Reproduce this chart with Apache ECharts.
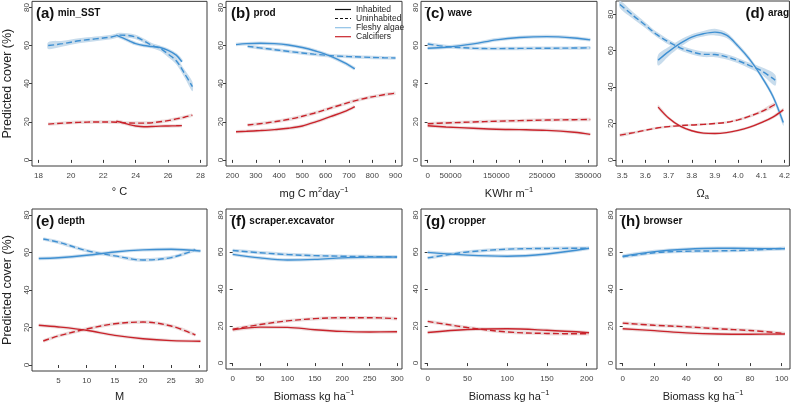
<!DOCTYPE html>
<html><head><meta charset="utf-8">
<script src="https://cdn.jsdelivr.net/npm/echarts@6/dist/echarts.min.js"></script>
<style>html,body{margin:0;padding:0;background:#fff}#c{width:793px;height:403px}</style>
</head><body><div id="c"></div><script>
// ---------------- DATA ----------------
const yTicks = [0, 20, 40, 60, 80];
const panelIds = ['(a)', '(b)', '(c)', '(d)', '(e)', '(f)', '(g)', '(h)'];
const panelNames = ['min_SST', 'prod', 'wave', 'arag', 'depth', 'scraper.excavator', 'cropper', 'browser'];
const legendLabels = ['Inhabited', 'Uninhabited', 'Fleshy algae', 'Calcifiers'];

// (a) min_SST
const a_ticks = [18, 20, 22, 24, 26, 28];
const a_xInh = [22.8, 23.2, 23.6, 24, 24.5, 25, 25.5, 26, 26.5, 26.85];
const a_fleshyInh = [65.5, 64, 62.5, 61, 60, 59.5, 59, 57.5, 55, 51.5];
const a_calcInh = [20.3, 19.5, 18.5, 17.8, 17.4, 17.5, 17.7, 17.8, 17.9, 18.0];
const a_xUn = [18.6, 19.5, 20.5, 21.5, 22.5, 23, 23.5, 24, 24.5, 25, 25.5, 26, 26.5, 27, 27.5];
const a_fleshyUn = [60, 61, 62.5, 63.5, 64.5, 65.5, 65.3, 64.5, 62.5, 60, 58.5, 55.5, 52, 45.5, 38.5];
const a_calcUn = [18.8, 19.3, 19.7, 19.9, 19.9, 19.7, 19.4, 19.3, 19.3, 19.5, 20, 20.6, 21.5, 22.4, 23.5];
const a_bandFleshyUn = [1.8, 1.5, 1.3, 1.2, 1.2, 1.2, 1.2, 1.2, 1.2, 1.3, 1.4, 1.6, 1.8, 2.1, 2.5];

// (b) prod
const b_ticks = [200, 300, 400, 500, 600, 700, 800, 900];
const b_xInh = [215, 260, 320, 380, 440, 500, 560, 620, 680, 725];
const b_fleshyInh = [60.5, 61, 61.2, 61, 60.3, 59, 57, 54.5, 51, 47.8];
const b_calcInh = [14.8, 15.0, 15.4, 15.9, 16.6, 17.8, 20.1, 22.7, 25.3, 28];
const b_xUn = [265, 350, 450, 550, 650, 750, 850, 900];
const b_fleshyUn = [59.6, 58.3, 56.8, 55.5, 54.5, 54, 53.6, 53.5];
const b_calcUn = [18.3, 19.5, 21.5, 24.5, 28.3, 31.8, 34.2, 35];

// (c) wave
const c_ticks = [0, 50000, 100000, 150000, 200000, 250000, 300000, 350000];
const c_tickLabels = [0, 50000, 150000, 250000, 350000];
const c_xInh = [0, 40000, 100000, 150000, 200000, 260000, 320000, 355000];
const c_fleshyInh = [58.6, 59.1, 60.9, 63, 64.2, 64.7, 64, 63];
const c_calcInh = [17.9, 17.3, 16.6, 16.1, 15.9, 15.5, 14.5, 13.4];
const c_xUn = [0, 40000, 100000, 150000, 200000, 260000, 320000, 355000];
const c_fleshyUn = [60.8, 59.5, 58.6, 58.4, 58.5, 58.6, 58.7, 58.8];
const c_calcUn = [19.0, 19.4, 19.9, 20.3, 20.6, 20.9, 21.1, 21.2];

// (d) arag
const d_ticks = [3.5, 3.6, 3.7, 3.8, 3.9, 4.0, 4.1, 4.2];
const d_xInh = [3.655, 3.7, 3.75, 3.8, 3.85, 3.9, 3.95, 4.0, 4.05, 4.1, 4.15, 4.195];
const d_fleshyInh = [54.8, 59.5, 64, 67.5, 69.3, 70.2, 68.5, 62.5, 55.2, 46, 35, 20.5];
const d_calcInh = [29, 23, 18.5, 16, 14.7, 14.5, 15, 16.2, 18, 20.5, 23.5, 27.5];
const d_xUn = [3.49, 3.55, 3.6, 3.65, 3.7, 3.75, 3.8, 3.85, 3.9, 3.95, 4.0, 4.05, 4.1, 4.16];
const d_fleshyUn = [85.4, 79, 74, 68.8, 64.8, 61.6, 59.4, 58, 57.9, 56.6, 54.5, 51.8, 49, 43.8];
const d_calcUn = [13.6, 15, 16.3, 17.5, 18.3, 18.8, 19.2, 19.5, 20, 20.6, 22, 24, 26.5, 30.5];
const d_bandFleshyInh = [3, 2.5, 2, 1.5, 1.5, 1.8, 1.5, 1.3, 1.3, 1.3, 1.5, 1.8];
const d_bandFleshyUn = [2, 1.8, 1.5, 1.4, 1.4, 1.4, 1.5, 1.5, 1.5, 1.4, 1.4, 1.6, 2, 3];
const d_bandCalcInh = [1.2, 1, 0.8, 0.7, 0.7, 0.7, 0.7, 0.7, 0.7, 0.8, 0.9, 1];
const d_bandCalcUn = [0.9, 0.8, 0.7, 0.7, 0.6, 0.6, 0.6, 0.6, 0.6, 0.6, 0.7, 0.8, 0.9, 1.1];

// (e) depth
const e_ticks = [5, 10, 15, 20, 25, 30];
const e_xInh = [1.5, 5, 10, 15, 20, 25, 30.2];
const e_fleshyInh = [56.8, 57.2, 58.5, 60.3, 61.4, 61.7, 60.8];
const e_calcInh = [21.2, 20.3, 18.5, 15.8, 14, 13, 12.7];
const e_xUn = [2.3, 5, 10, 15, 20, 25, 29.3];
const e_fleshyUn = [67.2, 65.5, 61, 58.2, 56, 57.3, 61.5];
const e_calcUn = [12.8, 15.5, 19.2, 22, 22.9, 20.8, 16];

// (f) scraper.excavator
const f_ticks = [0, 50, 100, 150, 200, 250, 300];
const f_xInh = [0, 50, 100, 150, 200, 250, 300];
const f_fleshyInh = [58.7, 56.8, 55.7, 56, 56.8, 57.2, 57.3];
const f_calcInh = [17.9, 19.4, 19.3, 18, 17.1, 16.8, 16.9];
const f_xUn = [0, 50, 100, 150, 200, 250, 300];
const f_fleshyUn = [60.8, 59.6, 58.6, 58, 57.7, 57.5, 57.3];
const f_calcUn = [18.3, 20.8, 22.8, 24, 24.5, 24.5, 24];

// (g) cropper
const g_ticks = [0, 50, 100, 150, 200];
const g_xInh = [0, 50, 100, 150, 203];
const g_fleshyInh = [59.8, 58.3, 57.7, 58.9, 62];
const g_calcInh = [16.5, 18.1, 18.5, 17.7, 16.4];
const g_xUn = [0, 25, 50, 100, 150, 203];
const g_fleshyUn = [56.8, 58.5, 60, 61.5, 61.9, 62];
const g_calcUn = [22.5, 20.8, 19.2, 16.8, 16, 15.8];

// (h) browser
const h_ticks = [0, 20, 40, 60, 80, 100];
const h_xInh = [0, 20, 40, 60, 80, 102];
const h_fleshyInh = [57.7, 60.2, 61.5, 62, 61.9, 61.7];
const h_calcInh = [18.5, 17.5, 16.3, 15.7, 15.6, 15.7];
const h_xUn = [0, 20, 40, 60, 80, 102];
const h_fleshyUn = [57.4, 59.6, 60.4, 60.6, 61, 62];
const h_calcUn = [21.6, 20.4, 19.6, 18.5, 17.6, 16];

// ---------------- LAYOUT / STYLE ----------------
const FONT = 'Liberation Sans, Arial, Helvetica, sans-serif';
const BLUE = '#3f90d2', RED = '#c9232b';
const BLUE_BAND = '#c8dcec', RED_BAND = '#ead9d9';
const lefts = [31, 226, 421, 616], widths = [176, 176, 176, 174];
const tops = [1, 209], height = 165;

const panels = [
  {ticks: a_ticks, labels: a_ticks, xr: [17.6, 28.4], yr: [-3.2, 83.2], xName: '{n|° C}', dec: 0,
   xi: a_xInh, fi: a_fleshyInh, ci: a_calcInh, xu: a_xUn, fu: a_fleshyUn, cu: a_calcUn},
  {ticks: b_ticks, labels: b_ticks, xr: [172, 928], yr: [-3.2, 83.2], xName: '{n|mg C m}{s|2}{n|day}{s|−1}', dec: 0,
   xi: b_xInh, fi: b_fleshyInh, ci: b_calcInh, xu: b_xUn, fu: b_fleshyUn, cu: b_calcUn},
  {ticks: c_ticks, labels: c_tickLabels, xr: [-14600, 369700], yr: [-3.2, 83.2], xName: '{n|KWhr m}{s|−1}', dec: 0,
   xi: c_xInh, fi: c_fleshyInh, ci: c_calcInh, xu: c_xUn, fu: c_fleshyUn, cu: c_calcUn},
  {ticks: d_ticks, labels: d_ticks, xr: [3.473, 4.2215], yr: [-3.36, 87.3], xName: '{n|Ω}{b|a}', dec: 1,
   xi: d_xInh, fi: d_fleshyInh, ci: d_calcInh, xu: d_xUn, fu: d_fleshyUn, cu: d_calcUn},
  {ticks: e_ticks, labels: e_ticks, xr: [0.3, 31.36], yr: [-3.2, 83.2], xName: '{n|M}', dec: 0,
   xi: e_xInh, fi: e_fleshyInh, ci: e_calcInh, xu: e_xUn, fu: e_fleshyUn, cu: e_calcUn},
  {ticks: f_ticks, labels: f_ticks, xr: [-12.2, 309], yr: [-3.2, 83.2], xName: '{n|Biomass kg ha}{s|−1}', dec: 0,
   xi: f_xInh, fi: f_fleshyInh, ci: f_calcInh, xu: f_xUn, fu: f_fleshyUn, cu: f_calcUn},
  {ticks: g_ticks, labels: g_ticks, xr: [-8.4, 213], yr: [-3.2, 83.2], xName: '{n|Biomass kg ha}{s|−1}', dec: 0,
   xi: g_xInh, fi: g_fleshyInh, ci: g_calcInh, xu: g_xUn, fu: g_fleshyUn, cu: g_calcUn},
  {ticks: h_ticks, labels: h_ticks, xr: [-4.2, 105.2], yr: [-3.2, 83.2], xName: '{n|Biomass kg ha}{s|−1}', dec: 0,
   xi: h_xInh, fi: h_fleshyInh, ci: h_calcInh, xu: h_xUn, fu: h_fleshyUn, cu: h_calcUn}
];

const grid = [], xAxis = [], yAxis = [], series = [], graphic = [];
const zip = (xs, ys) => xs.map((x, i) => [x, ys[i]]);

function line(gi, xs, ys, color, dashed) {
  series.push({type: 'line', xAxisIndex: gi, yAxisIndex: gi, data: zip(xs, ys), symbol: 'none',
    smooth: 0.35, silent: true, z: 5,
    lineStyle: {color: color, width: 1.4, type: dashed ? [6, 3] : 'solid'}});
}
function underlay(gi, xs, ys, color) {
  series.push({type: 'line', xAxisIndex: gi, yAxisIndex: gi, data: zip(xs, ys), symbol: 'none',
    smooth: 0.35, silent: true, z: 2, lineStyle: {color: color, width: 3.5, opacity: 0.9}});
}
function band(gi, xs, ys, hw, color) {
  series.push({type: 'custom', xAxisIndex: gi, yAxisIndex: gi, silent: true, z: 2,
    data: xs.map((x, i) => [x, ys[i] - hw[i], ys[i] + hw[i]]),
    renderItem: function (params, api) {
      if (params.dataIndex !== 0) return null;
      const up = xs.map((x, i) => api.coord([x, ys[i] + hw[i]]));
      const lo = xs.map((x, i) => api.coord([x, ys[i] - hw[i]])).reverse();
      return {type: 'polygon', shape: {points: up.concat(lo), smooth: 0.3}, style: {fill: color}};
    }});
}

panels.forEach((p, gi) => {
  const col = gi % 4, row = Math.floor(gi / 4);
  grid.push({left: lefts[col], top: tops[row], width: widths[col], height: height,
    show: true, borderColor: '#3a3a3a', borderWidth: 1, backgroundColor: 'transparent'});
  xAxis.push({type: 'value', gridIndex: gi, min: p.xr[0], max: p.xr[1],
    axisLine: {show: false}, splitLine: {show: false},
    axisTick: {show: true, inside: false, length: 3, customValues: p.ticks, lineStyle: {color: '#3a3a3a'}},
    axisLabel: {customValues: p.labels, fontSize: 8, color: '#444', fontFamily: FONT, margin: 6,
      formatter: v => Number(v).toFixed(p.dec)},
    name: p.xName, nameLocation: 'middle', nameGap: 20,
    nameTextStyle: {fontFamily: FONT, rich: {
      n: {fontSize: 11, color: '#222', fontFamily: FONT},
      s: {fontSize: 7.5, color: '#222', fontFamily: FONT, verticalAlign: 'top', padding: [0, 0, 7, 0]},
      b: {fontSize: 7.5, color: '#222', fontFamily: FONT, padding: [7, 0, 0, 0]}}}});
  yAxis.push({type: 'value', gridIndex: gi, min: p.yr[0], max: p.yr[1],
    axisLine: {show: false}, splitLine: {show: false},
    axisTick: {show: true, inside: false, length: 3, customValues: yTicks, lineStyle: {color: '#3a3a3a'}},
    axisLabel: {customValues: yTicks, fontSize: 8, color: '#444', fontFamily: FONT, rotate: 90, margin: 1},
    name: col === 0 ? 'Predicted cover (%)' : '', nameLocation: 'middle', nameGap: 18,
    nameTextStyle: {fontSize: 12.5, color: '#222', fontFamily: FONT}});

  // confidence bands
  if (gi === 0) {
    band(gi, p.xu, p.fu, a_bandFleshyUn, BLUE_BAND);
    underlay(gi, p.xi, p.fi, BLUE_BAND);
    underlay(gi, p.xi, p.ci, RED_BAND);
    underlay(gi, p.xu, p.cu, RED_BAND);
  } else if (gi === 3) {
    band(gi, p.xi, p.fi, d_bandFleshyInh, BLUE_BAND);
    band(gi, p.xu, p.fu, d_bandFleshyUn, BLUE_BAND);
    band(gi, p.xi, p.ci, d_bandCalcInh, RED_BAND);
    band(gi, p.xu, p.cu, d_bandCalcUn, RED_BAND);
  } else {
    underlay(gi, p.xi, p.fi, BLUE_BAND);
    underlay(gi, p.xu, p.fu, BLUE_BAND);
    underlay(gi, p.xi, p.ci, RED_BAND);
    underlay(gi, p.xu, p.cu, RED_BAND);
  }
  line(gi, p.xu, p.fu, BLUE, true);
  line(gi, p.xu, p.cu, RED, true);
  line(gi, p.xi, p.fi, BLUE, false);
  line(gi, p.xi, p.ci, RED, false);

  // panel label
  const txt = '{b|' + panelIds[gi] + '} {s|' + panelNames[gi] + '}';
  const rich = {b: {fontSize: 15, fontWeight: 'bold', fill: '#111', fontFamily: FONT},
                s: {fontSize: 10, fontWeight: 'bold', fill: '#111', fontFamily: FONT}};
  if (gi === 3) {
    graphic.push({type: 'text', right: 793 - 789, top: tops[row] + 5,
      style: {text: txt, rich: rich, align: 'right'}});
  } else {
    graphic.push({type: 'text', left: lefts[col] + 5, top: tops[row] + 5,
      style: {text: txt, rich: rich}});
  }
});

// legend in panel (b)
const legY = [9.5, 18.5, 27.7, 36.7];
const legStyles = [
  {stroke: '#111', lineDash: null}, {stroke: '#111', lineDash: [3, 2]},
  {stroke: '#8fc1e6', lineDash: null}, {stroke: RED, lineDash: null}];
legendLabels.forEach((t, i) => {
  graphic.push({type: 'line', shape: {x1: 335, y1: legY[i], x2: 351, y2: legY[i]},
    style: {stroke: legStyles[i].stroke, lineWidth: 1.2, lineDash: legStyles[i].lineDash}});
  graphic.push({type: 'text', x: 356, y: legY[i],
    style: {text: t, fontSize: 8.5, fill: '#222', fontFamily: FONT, verticalAlign: 'middle'}});
});

const chart = echarts.init(document.getElementById('c'), null, {renderer: 'canvas'});
chart.setOption({animation: false, backgroundColor: '#fff', grid, xAxis, yAxis, series, graphic});
</script></body></html>
